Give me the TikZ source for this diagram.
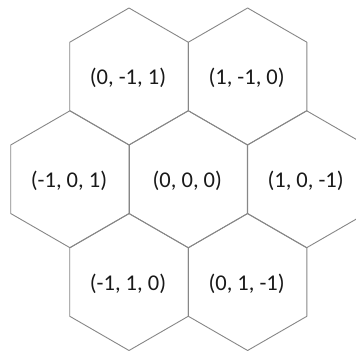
\documentclass[tikz,border=0pt]{standalone}
\usepackage{fontspec}
\setmainfont{Carlito}
\usetikzlibrary{calc}
\begin{document}
\begin{tikzpicture}[x=1pt,y=1pt,
  hexline/.style={draw=black!47, line width=0.9pt, line join=round},
  lbl/.style={font=\fontsize{22.5}{26}\selectfont, text=black!90, inner sep=0pt}]
\fill[white] (0,0) rectangle (356,354);
\useasboundingbox (0,0) rectangle (356,354);
\clip (0,0) rectangle (356,354);
\def\R{68.5}
\def\W{59.3}
\newcommand{\hexat}[3]{%
  \coordinate (#3) at (#1,#2);
  \draw[hexline] ($(#3)+(0,\R)$) -- ($(#3)+(\W,0.5*\R)$) -- ($(#3)+(\W,-0.5*\R)$) -- ($(#3)+(0,-\R)$) -- ($(#3)+(-\W,-0.5*\R)$) -- ($(#3)+(-\W,0.5*\R)$) -- cycle;
}
\hexat{129}{277.5}{h1}
\hexat{247.6}{277.5}{h2}
\hexat{70}{174.75}{h3}
\hexat{188.3}{174.75}{h4}
\hexat{306.6}{174.75}{h5}
\hexat{129}{72}{h6}
\hexat{247.6}{72}{h7}
\node[lbl] (t1) at ($(h1)+(-1,-1.5)$) {(0, -1, 1)};
\node[lbl] (t2) at ($(h2)+(-1,-1.5)$) {(1, -1, 0)};
\node[lbl] (t3) at ($(h3)+(-1,-1.5)$) {(-1, 0, 1)};
\node[lbl] (t4) at ($(h4)+(-1,-1.5)$) {(0, 0, 0)};
\node[lbl] (t5) at ($(h5)+(-1,-1.5)$) {(1, 0, -1)};
\node[lbl] (t6) at ($(h6)+(-1,-1.5)$) {(-1, 1, 0)};
\node[lbl] (t7) at ($(h7)+(-1,-1.5)$) {(0, 1, -1)};
\end{tikzpicture}
\end{document}
